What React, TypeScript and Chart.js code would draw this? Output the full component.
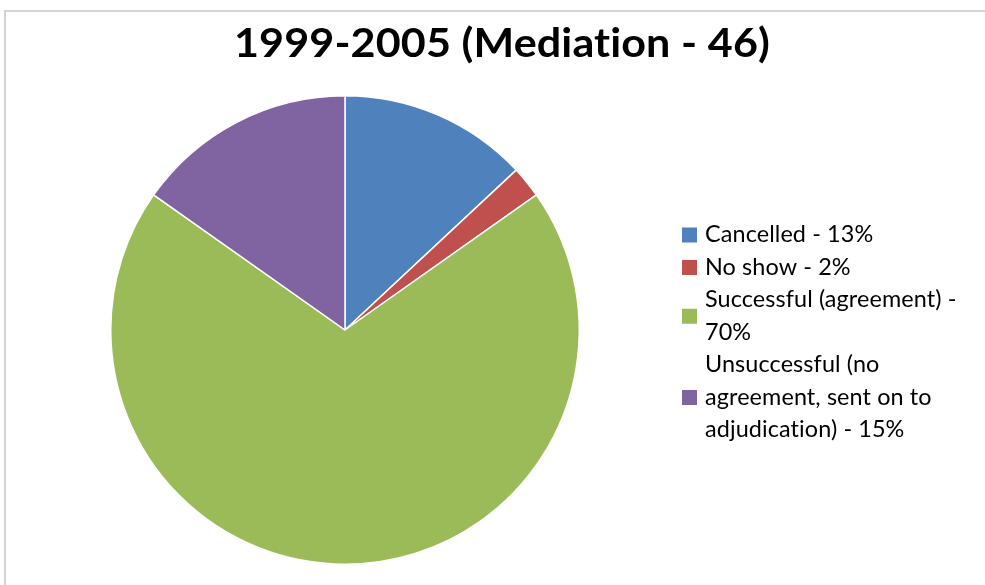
import React, { useEffect, useRef } from "react";
import { Chart, registerables } from "chart.js";

Chart.register(...registerables);

const TITLE = "1999-2005 (Mediation - 46)";
const categories = ["Cancelled", "No show", "Successful (agreement)", "Unsuccessful (no agreement, sent on to adjudication)"];
const counts = [6, 1, 32, 7];
const percentLabels = ["13%", "2%", "70%", "15%"];
const legendLines = [
  ["Cancelled - 13%"],
  ["No show - 2%"],
  ["Successful (agreement) -", "70%"],
  ["Unsuccessful (no", "agreement, sent on to", "adjudication) - 15%"],
];
const colors = ["#4F81BD", "#C0504D", "#9BBB59", "#8064A2"];

const FONT = "Lato, 'Open Sans', sans-serif";

const legendPlugin = {
  id: "customLegend",
  beforeDraw(chart: any) {
    const ctx = chart.ctx;
    ctx.save();
    ctx.fillStyle = "#ffffff";
    ctx.fillRect(0, 0, chart.width, chart.height);
    ctx.strokeStyle = "#d4d4d4";
    ctx.lineWidth = 2;
    ctx.strokeRect(5, 11, 1200, 1200);
    ctx.restore();
  },
  afterDraw(chart: any) {
    const ctx = chart.ctx;
    ctx.save();
    // title
    ctx.font = `bold 41px ${FONT}`;
    try { (ctx as any).letterSpacing = "0.1px"; } catch (e) {}
    ctx.textBaseline = "alphabetic";
    ctx.textAlign = "center";
    ctx.fillStyle = "#000000";
    const w = ctx.measureText(TITLE).width;
    const sx = 536 / w;
    ctx.save();
    ctx.translate(502, 57);
    ctx.scale(sx, 1);
    ctx.fillText(TITLE, 0, 0);
    ctx.restore();

    // legend
    const lh = 32.5;
    let y = 235;
    const textX = 705;
    const boxX = 682;
    const box = 15;
    ctx.textAlign = "left";
    ctx.font = `22.5px ${FONT}`;
    try { (ctx as any).letterSpacing = "0.1px"; } catch (e) {}
    ctx.textBaseline = "middle";
    legendLines.forEach((lines, i) => {
      const n = lines.length;
      const mid = y + ((n - 1) * lh) / 2;
      ctx.fillStyle = colors[i];
      ctx.fillRect(boxX, mid - box / 2, box, box);
      ctx.fillStyle = "#000000";
      lines.forEach((ln, j) => {
        ctx.save();
        ctx.translate(textX, y + j * lh);
        ctx.scale(1.04, 1);
        ctx.fillText(ln, 0, 0);
        ctx.restore();
      });
      y += n * lh;
    });
    ctx.restore();
  },
};

export default function App() {
  const ref = useRef<HTMLCanvasElement>(null);
  useEffect(() => {
    document.body.style.margin = "0";
    const chart = new Chart(ref.current!, {
      type: "pie",
      data: {
        labels: categories.map((c, i) => `${c} - ${percentLabels[i]}`),
        datasets: [
          {
            data: counts,
            backgroundColor: colors,
            borderColor: "#ffffff",
            borderWidth: 1.5,
          },
        ],
      },
      options: {
        animation: false,
        responsive: false,
        layout: { padding: { left: 110, right: 405, top: 95, bottom: 20 } },
        plugins: {
          legend: { display: false },
          tooltip: { enabled: false },
          title: { display: false },
        },
      },
      plugins: [legendPlugin],
    });
    return () => chart.destroy();
  }, []);
  return (
    <div style={{ position: "absolute", left: 0, top: 0, width: 985, height: 585 }}>
      <canvas ref={ref} width={985} height={585} style={{ width: 985, height: 585 }} />
    </div>
  );
}
